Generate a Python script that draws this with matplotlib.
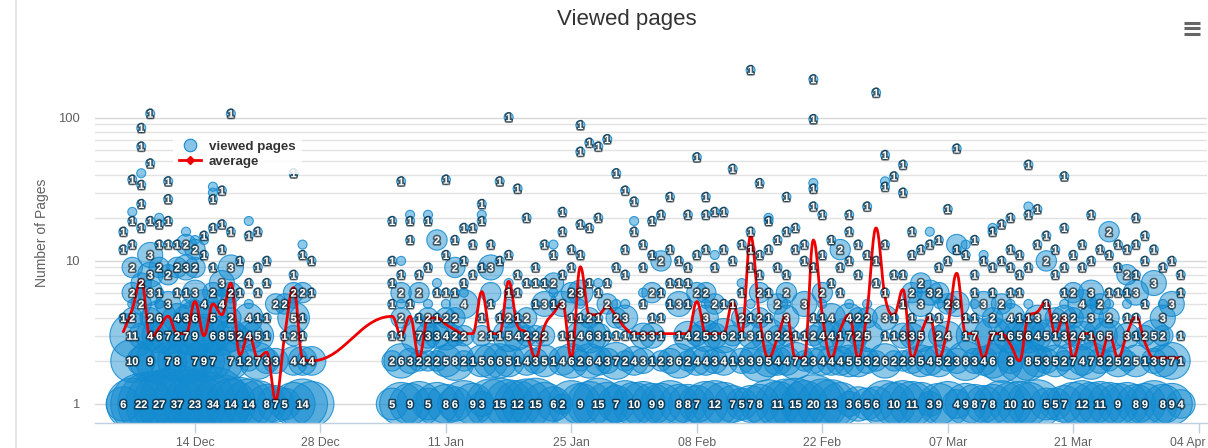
import numpy as np
import matplotlib
matplotlib.use("Agg")
import matplotlib.pyplot as plt
import matplotlib.dates as mdates
import matplotlib.patheffects as pe
import matplotlib.transforms as mtransforms
from matplotlib.lines import Line2D
from datetime import datetime, timedelta

plt.rcParams['font.family'] = ['Liberation Sans', 'DejaVu Sans']

# ---------------------------------------------------------------- data
start_date = datetime(2015, 12, 6)
# day offsets from start_date that have visits (holiday break in between)
days = list(range(0, 22)) + list(range(30, 119))

# number of visitors who viewed exactly 1..6 pages, per day
p1 = [6, 15, 22, 25, 27, 30, 37, 28, 23, 26, 34, 20, 14, 16, 14, 12, 8, 7, 5, 10, 14, 11,
      5, 10, 9, 11, 5, 10, 8, 6, 12, 9, 3, 14, 15, 13, 12, 14, 15, 10, 6, 2,
      12, 9, 11, 15, 10, 7, 12, 10, 11, 9, 9, 12, 8, 8, 7, 11, 12, 10, 7, 5,
      7, 8, 13, 11, 14, 15, 12, 20, 14, 13, 10, 3, 6, 5, 6, 12, 10, 12, 11, 10,
      3, 9, 11, 4, 9, 8, 7, 8, 12, 10, 11, 10, 13, 5, 5, 7, 10, 12, 10, 11,
      10, 9, 10, 8, 9, 12, 8, 9, 4]
p2 = [0, 10, 4, 9, 12, 7, 8, 11, 7, 9, 7, 10, 7, 1, 2, 7, 3, 3, 0, 4, 4, 4,
      2, 6, 3, 2, 2, 2, 5, 8, 2, 1, 5, 6, 6, 5, 1, 4, 3, 5, 1, 4, 6, 2, 6, 4, 3, 7,
      2, 4, 3, 1, 2, 3, 6, 2, 4, 4, 3, 4, 1, 3, 3, 9, 5, 4, 4, 7, 2, 3, 4, 4, 4, 5, 5, 3, 2, 6,
      2, 2, 3, 5, 4, 5, 2, 3, 8, 3, 4, 6, 10, 3, 10, 8, 5, 3, 5, 2, 7, 4, 7, 3, 2, 5,
      2, 5, 1, 3, 5, 7, 1]
p3 = [0, 11, 3, 4, 6, 7, 2, 7, 9, 10, 6, 8, 5, 2, 4, 5, 1, 0, 1, 2, 1, 0,
      1, 1, 0, 7, 3, 3, 4, 2, 2, 0, 2, 1, 1, 5, 4, 2, 2, 2, 0, 1, 1, 4, 6, 3, 1, 1,
      1, 1, 3, 3, 1, 0, 1, 4, 2, 5, 3, 6, 2, 1, 3, 1, 6, 2, 2, 1, 1, 2, 4, 4, 1, 7, 2, 5, 0, 1,
      1, 3, 3, 5, 0, 2, 4, 0, 1, 7, 0, 7, 1, 6, 5, 6, 4, 5, 1, 3, 2, 4, 1, 6, 5, 0,
      3, 1, 2, 5, 2, 0, 1]
p4 = [1, 2, 0, 2, 6, 0, 4, 3, 6, 0, 5, 0, 2, 0, 4, 1, 1, 0, 0, 5, 1, 0,
      0, 2, 0, 1, 2, 1, 2, 2, 0, 0, 1, 0, 1, 2, 1, 2, 0, 0, 0, 0, 1, 1, 2, 1, 0, 2,
      3, 0, 0, 1, 1, 0, 0, 0, 0, 3, 0, 0, 0, 2, 1, 2, 1, 0, 3, 0, 0, 1, 1, 4, 0, 4, 2, 2, 0, 3,
      1, 0, 1, 0, 1, 1, 0, 0, 1, 1, 0, 2, 0, 4, 1, 1, 3, 0, 2, 3, 2, 0, 3, 0, 2, 0,
      1, 1, 0, 0, 3, 0, 0]
p5 = [0, 1, 2, 0, 1, 3, 0, 1, 1, 4, 0, 4, 1, 0, 1, 0, 0, 2, 2, 1, 0, 0,
      1, 1, 1, 0, 1, 0, 1, 0, 4, 0, 0, 1, 0, 1, 0, 0, 1, 3, 1, 3, 0, 1, 0, 0, 2, 1,
      1, 0, 1, 0, 0, 1, 3, 1, 0, 1, 2, 1, 1, 0, 1, 0, 0, 2, 1, 0, 3, 0, 1, 0, 0, 1, 0, 1, 0, 0,
      0, 1, 0, 3, 0, 1, 2, 3, 0, 1, 3, 0, 2, 1, 0, 1, 0, 1, 0, 1, 0, 4, 1, 2, 1, 0,
      1, 0, 1, 0, 1, 3, 0]
p6 = [0, 2, 0, 3, 1, 0, 1, 1, 3, 0, 2, 1, 2, 1, 0, 1, 0, 0, 0, 2, 2, 1,
      0, 2, 0, 2, 0, 1, 1, 1, 1, 0, 0, 2, 0, 1, 1, 0, 0, 0, 1, 0, 2, 3, 0, 1, 0, 0,
      0, 0, 1, 2, 1, 0, 0, 0, 2, 2, 0, 0, 0, 1, 0, 2, 1, 0, 2, 0, 0, 0, 2, 0, 1, 0, 0, 0, 0, 1,
      0, 0, 2, 0, 3, 2, 0, 0, 0, 1, 0, 1, 0, 1, 1, 0, 0, 0, 0, 1, 2, 0, 3, 0, 1, 1,
      1, 3, 0, 0, 0, 0, 1]

# visitors with 7+ pages: (day offset, pages, visitors)
upper_dec = [(0, 16, 1), (0, 12, 1), (1, 9, 2), (1, 13, 1), (1, 19, 1), (1, 37, 1), (1, 22, 1),
             (2, 7, 2), (2, 17, 1), (2, 25, 1), (2, 34, 1), (2, 41, 1), (2, 63, 1), (2, 85, 1),
             (3, 8, 3), (3, 11, 3), (3, 19, 1), (3, 48, 1), (3, 107, 1),
             (4, 9, 2), (4, 13, 1), (4, 20, 1), (4, 18, 1), (5, 8, 2), (5, 13, 1), (5, 19, 1),
             (5, 27, 1), (5, 36, 1), (6, 9, 2), (6, 13, 1), (7, 9, 3), (7, 13, 2), (7, 16, 1),
             (8, 9, 2), (8, 12, 2), (8, 14, 1), (9, 11, 1), (9, 15, 1), (9, 14, 1),
             (10, 9, 1), (10, 17, 1), (10, 27, 1), (10, 30, 1), (10, 33, 1),
             (11, 7, 3), (11, 12, 1), (11, 18, 1), (11, 31, 1), (12, 9, 3), (12, 16, 1), (12, 107, 1),
             (13, 10, 1), (14, 7, 1), (14, 19, 1), (14, 15, 1), (15, 9, 1), (15, 16, 1),
             (16, 7, 1), (16, 10, 1), (19, 41, 1), (19, 8, 1), (20, 13, 1), (20, 11, 1), (21, 10, 1)]
upper_jan = [(30, 10, 1), (30, 19, 1), (30, 7, 1), (31, 10, 1), (31, 36, 1), (31, 8, 1),
             (32, 14, 1), (32, 21, 1), (32, 19, 1), (33, 8, 1), (34, 21, 1), (34, 19, 1), (34, 9, 1),
             (35, 14, 2), (35, 7, 1), (36, 11, 1), (36, 37, 1), (37, 9, 2), (37, 14, 1),
             (38, 7, 1), (38, 10, 1), (38, 17, 1), (39, 8, 1), (39, 13, 1), (39, 17, 1),
             (40, 9, 1), (40, 25, 1), (40, 21, 1), (40, 19, 1), (41, 9, 3), (41, 13, 1),
             (42, 10, 1), (42, 36, 1), (43, 11, 1), (43, 101, 1), (43, 7, 1), (44, 32, 1), (44, 8, 1),
             (45, 7, 1), (45, 20, 1), (46, 7, 1), (46, 9, 1), (47, 7, 1), (47, 13, 1),
             (48, 7, 2), (48, 11, 1), (48, 13, 1), (49, 8, 1), (49, 22, 1), (49, 16, 1),
             (50, 12, 1), (50, 9, 1), (51, 11, 1), (51, 58, 1), (51, 89, 1), (51, 18, 1),
             (52, 7, 1), (52, 67, 1), (52, 17, 1), (53, 7, 1), (53, 63, 1), (53, 20, 1),
             (54, 7, 1), (54, 71, 1), (55, 41, 1), (55, 9, 1)]
upper_feb = [(56, 31, 1), (56, 8, 1), (56, 12, 1), (57, 26, 1), (57, 19, 1), (57, 16, 1),
             (58, 9, 1), (58, 13, 1), (59, 19, 1), (59, 11, 1), (60, 21, 1), (60, 10, 2),
             (61, 7, 1), (61, 28, 1), (61, 12, 1), (62, 7, 1), (62, 10, 1), (63, 7, 1), (63, 21, 1),
             (63, 9, 1), (64, 53, 1), (64, 11, 1), (65, 28, 1), (65, 21, 1), (65, 12, 1),
             (66, 22, 1), (66, 11, 1), (66, 9, 1), (67, 22, 1), (67, 12, 1), (68, 44, 1), (68, 10, 1),
             (69, 7, 1), (69, 13, 1), (70, 216, 1), (70, 16, 1), (70, 12, 1), (70, 9, 1),
             (71, 35, 1), (71, 11, 1), (71, 8, 1), (72, 20, 1), (72, 19, 1), (72, 12, 1),
             (73, 9, 1), (73, 14, 1), (74, 28, 1), (74, 16, 1), (74, 8, 1), (75, 17, 1), (75, 12, 1),
             (76, 10, 1), (76, 13, 1), (77, 186, 1), (77, 98, 1), (77, 35, 1), (77, 32, 1),
             (77, 24, 1), (77, 9, 1), (78, 21, 1), (78, 11, 1), (79, 7, 1), (79, 14, 1),
             (80, 9, 1), (80, 12, 2), (81, 21, 1), (81, 16, 1), (81, 10, 1), (82, 13, 1), (82, 8, 1),
             (83, 24, 1), (83, 11, 1), (84, 150, 1), (84, 10, 1), (84, 7, 1),
             (85, 55, 1), (85, 36, 1), (85, 33, 1), (85, 13, 1)]
upper_mar = [(86, 39, 1), (86, 8, 1), (87, 47, 1), (87, 30, 1), (87, 8, 1), (88, 16, 1), (88, 11, 1),
             (89, 7, 2), (89, 12, 1), (90, 16, 1), (90, 13, 1), (91, 9, 1), (91, 14, 1),
             (92, 23, 1), (92, 10, 1), (93, 61, 1), (93, 13, 2), (93, 12, 1), (94, 13, 1), (94, 11, 1),
             (95, 8, 1), (95, 14, 1), (96, 11, 1), (96, 10, 1), (97, 17, 1), (97, 16, 1), (97, 9, 1),
             (98, 18, 1), (98, 10, 1), (99, 20, 1), (99, 12, 1), (99, 9, 1), (100, 11, 1), (100, 8, 1),
             (101, 47, 1), (101, 24, 1), (101, 21, 1), (101, 9, 1), (102, 23, 1), (102, 13, 1),
             (103, 15, 1), (103, 10, 2), (104, 12, 1), (104, 8, 1), (105, 39, 1), (105, 17, 1),
             (105, 9, 1), (106, 11, 1), (107, 13, 1), (107, 9, 1), (108, 21, 1), (108, 10, 1),
             (109, 12, 1), (110, 16, 2), (110, 11, 1), (111, 13, 1), (111, 9, 1), (112, 8, 2),
             (112, 12, 1), (113, 20, 1), (113, 8, 1), (113, 13, 1), (114, 10, 1), (114, 15, 1),
             (115, 7, 3), (115, 12, 1), (116, 9, 1), (117, 10, 1), (118, 8, 1)]

# average pages per visitor, per day
avg = [3.2, 4.6, 7.4, 2.9, 3.4, 4.1, 3.1, 3.1, 5.2, 3.0, 5.0, 4.2, 7.0, 2.2, 3.1, 2.1, 2.3, 1.07, 3.0, 6.5, 2.1, 2.0,
       4.1, 3.0, 4.1, 2.1, 4.0, 4.0, 3.6, 3.3, 3.1, 3.1, 6.1, 3.1, 3.1, 7.2, 3.5, 3.1, 2.1, 3.5, 4.3, 5.1,
       2.1, 9.1, 4.2, 4.2, 4.8, 4.1,
       3.4, 3.1, 3.1, 3.1, 3.1, 3.1, 3.1, 3.1, 5.2, 3.1, 3.1, 3.1, 5.2, 3.1, 15.0, 4.0, 2.1, 2.9, 4.2, 2.1,
       2.1, 14.0, 4.2, 2.1, 3.3, 4.2, 2.1, 4.5, 17.0, 5.6,
       4.2, 6.3, 2.1, 3.1, 4.1, 2.1, 3.5, 8.2, 3.1, 3.1, 2.1, 3.1, 3.1, 2.6, 2.0, 4.1, 4.4, 5.2, 3.1, 4.1,
       2.1, 3.1, 3.1, 2.1, 3.1, 2.1, 3.1, 4.1, 2.7, 2.1, 2.1, 2.1, 2.1]

tick_start = datetime(2015, 12, 14)
tick_step_days = 14

# ---------------------------------------------------------------- figure
W, H = 1208, 448
fig = plt.figure(figsize=(W / 100, H / 100), dpi=100)
PL, PR, PT, PB = 95, 1207, 40, 423
ax = fig.add_axes([PL / W, 1 - PB / H, (PR - PL) / W, (PB - PT) / H])
ax.set_yscale('log')
ax.set_ylim(0.736, 350)
x0 = mdates.date2num(start_date)
ax.set_xlim(x0 - 3.16, x0 + 120.93)

BLUE = '#138bd0'

# collect bubbles
cells = {}
for row_pages, row in enumerate([p1, p2, p3, p4, p5, p6], start=1):
    for d, c in zip(days, row):
        if c > 0:
            cells[(d, row_pages)] = cells.get((d, row_pages), 0) + c
for d, pg, c in upper_dec + upper_jan + upper_feb + upper_mar:
    cells[(d, pg)] = cells.get((d, pg), 0) + c
pts = [(d, pg, c) for (d, pg), c in cells.items()]

zmin, zmax = 1, max(c for _, _, c in pts)
min_px, max_px = 9.0, 77.0


def diam(c):
    pos = (c - zmin) / (zmax - zmin)
    return min_px + np.sqrt(pos) * (max_px - min_px)


order = sorted(pts, key=lambda t: -t[2])
bx = np.array([x0 + t[0] for t in order])
by = np.array([t[1] for t in order], dtype=float)
bs = np.array([(diam(t[2]) * 0.72) ** 2 for t in order])
ax.scatter(bx, by, s=bs, facecolor=matplotlib.colors.to_rgba(BLUE, 0.47),
           edgecolor=matplotlib.colors.to_rgba(BLUE, 0.85), linewidth=0.8, zorder=2)

# grid and axes styling
ax.set_yticks([1, 10, 100])
ax.set_yticklabels(['1', '10', '100'])
minor = [v * m for m in (1, 10) for v in range(2, 10)]
ax.set_yticks(minor, minor=True)
ax.yaxis.set_minor_formatter(matplotlib.ticker.NullFormatter())
ax.grid(which='major', axis='y', color='#d8d8d8', lw=1)
ax.grid(which='minor', axis='y', color='#e2e2e2', lw=1)
ax.set_axisbelow(True)
ax.tick_params(axis='y', which='both', length=0, pad=11, labelsize=9.4, labelcolor='#606060')
for s in ['left', 'right', 'top']:
    ax.spines[s].set_visible(False)
ax.spines['bottom'].set_color('#c0d0e0')
ax.spines['bottom'].set_linewidth(1)

xt = [mdates.date2num(tick_start + timedelta(days=tick_step_days * k)) for k in range(9)]
ax.set_xticks(xt)
ax.xaxis.set_major_formatter(mdates.DateFormatter('%d %b'))
ax.tick_params(axis='x', length=7.2, width=1, color='#c0d0e0', pad=3, labelsize=8.8,
               labelcolor='#606060')

# average spline (Highcharts-style smoothing)
def spline(xs, ys, smoothing=1.5, n=18):
    xs = list(xs); ys = list(ys)
    m = len(xs)
    rcont = [None] * m
    ox, oy = [xs[0]], [ys[0]]
    den = smoothing + 1
    for i in range(1, m):
        px, py = xs[i], ys[i]
        lcx, lcy = px, py
        if i < m - 1:
            lx, ly = xs[i - 1], ys[i - 1]
            nx, ny = xs[i + 1], ys[i + 1]
            lcx = (smoothing * px + lx) / den
            lcy = (smoothing * py + ly) / den
            rcx = (smoothing * px + nx) / den
            rcy = (smoothing * py + ny) / den
            if rcx != lcx:
                corr = (rcy - lcy) * (rcx - px) / (rcx - lcx) + py - rcy
                lcy += corr
                rcy += corr
            if lcy > ly and lcy > py:
                lcy = max(ly, py); rcy = 2 * py - lcy
            elif lcy < ly and lcy < py:
                lcy = min(ly, py); rcy = 2 * py - lcy
            if rcy > ny and rcy > py:
                rcy = max(ny, py); lcy = 2 * py - rcy
            elif rcy < ny and rcy < py:
                rcy = min(ny, py); lcy = 2 * py - rcy
            rcont[i] = (rcx, rcy)
        sx, sy = xs[i - 1], ys[i - 1]
        c1 = rcont[i - 1] if rcont[i - 1] is not None else (sx, sy)
        t = np.linspace(0, 1, n)[1:]
        ox.extend((1 - t) ** 3 * sx + 3 * (1 - t) ** 2 * t * c1[0] + 3 * (1 - t) * t ** 2 * lcx + t ** 3 * px)
        oy.extend((1 - t) ** 3 * sy + 3 * (1 - t) ** 2 * t * c1[1] + 3 * (1 - t) * t ** 2 * lcy + t ** 3 * py)
    return np.array(ox), np.array(oy)


sx, sy = spline([x0 + d for d in days], np.log10(avg))
ax.plot(sx, 10 ** sy, color='#ee0000', lw=2, zorder=3, solid_capstyle='round')

# data labels with overlap hiding
fig.canvas.draw()
tr = ax.transData
placed = []
lab_h = 15.0
for d, pg, c in sorted(pts, key=lambda t: (t[0], t[1])):
    X, Y = tr.transform((x0 + d, pg))
    if not (PL <= X <= PR and H - PB <= Y <= H - PT):
        continue
    w = len(str(c)) * 6.1 + 1.0
    if any(abs(X - x2) < (w + w2) / 2 and abs(Y - y2) < lab_h for x2, y2, w2 in placed):
        continue
    placed.append((X, Y, w))
    ax.text(x0 + d, pg, str(c), ha='center', va='center_baseline', fontsize=7.9,
            fontweight='bold', color='white', zorder=5,
            path_effects=[pe.withStroke(linewidth=2.4, foreground=(0, 0, 0, 0.55))])

# keep the last date label inside the chart
last = ax.get_xticklabels()[-1]
last.set_horizontalalignment('right')
last.set_transform(last.get_transform() + mtransforms.ScaledTranslation(7 / 100, 0, fig.dpi_scale_trans))

# title, axis title, menu icon, left rule
fig.text(627 / W, 1 - 19 / H, 'Viewed pages', ha='center', va='center', fontsize=16, color='#333333')
fig.text(42 / W, 1 - 233 / H, 'Number of Pages', ha='center', va='center', rotation=90,
         fontsize=10, color='#606060')
for yy in (23, 28.5, 34):
    fig.add_artist(Line2D([1184 / W, 1200 / W], [1 - yy / H, 1 - yy / H], color='#666666',
                          lw=2.2, solid_capstyle='butt'))
fig.add_artist(Line2D([16 / W, 16 / W], [0, 1], color='#e6e6e6', lw=1.5))

# legend
h1 = Line2D([], [], ls='none', marker='o', ms=9, mfc=matplotlib.colors.to_rgba(BLUE, 0.5),
            mec=BLUE, mew=0.8)
h2 = Line2D([], [], color='#ee0000', lw=2, marker='D', ms=4)
leg = fig.legend([h1, h2], ['viewed pages', 'average'], loc='upper left',
                 bbox_to_anchor=(166 / W, 1 - 127 / H), frameon=True, fancybox=False,
                 framealpha=0.85, edgecolor='none', facecolor='white',
                 prop={'weight': 'bold', 'size': 9.6}, handlelength=1.6, handletextpad=0.6,
                 labelspacing=0.2, borderpad=0.5)
for t in leg.get_texts():
    t.set_color('#333333')

fig.savefig('out.png', dpi=100)
